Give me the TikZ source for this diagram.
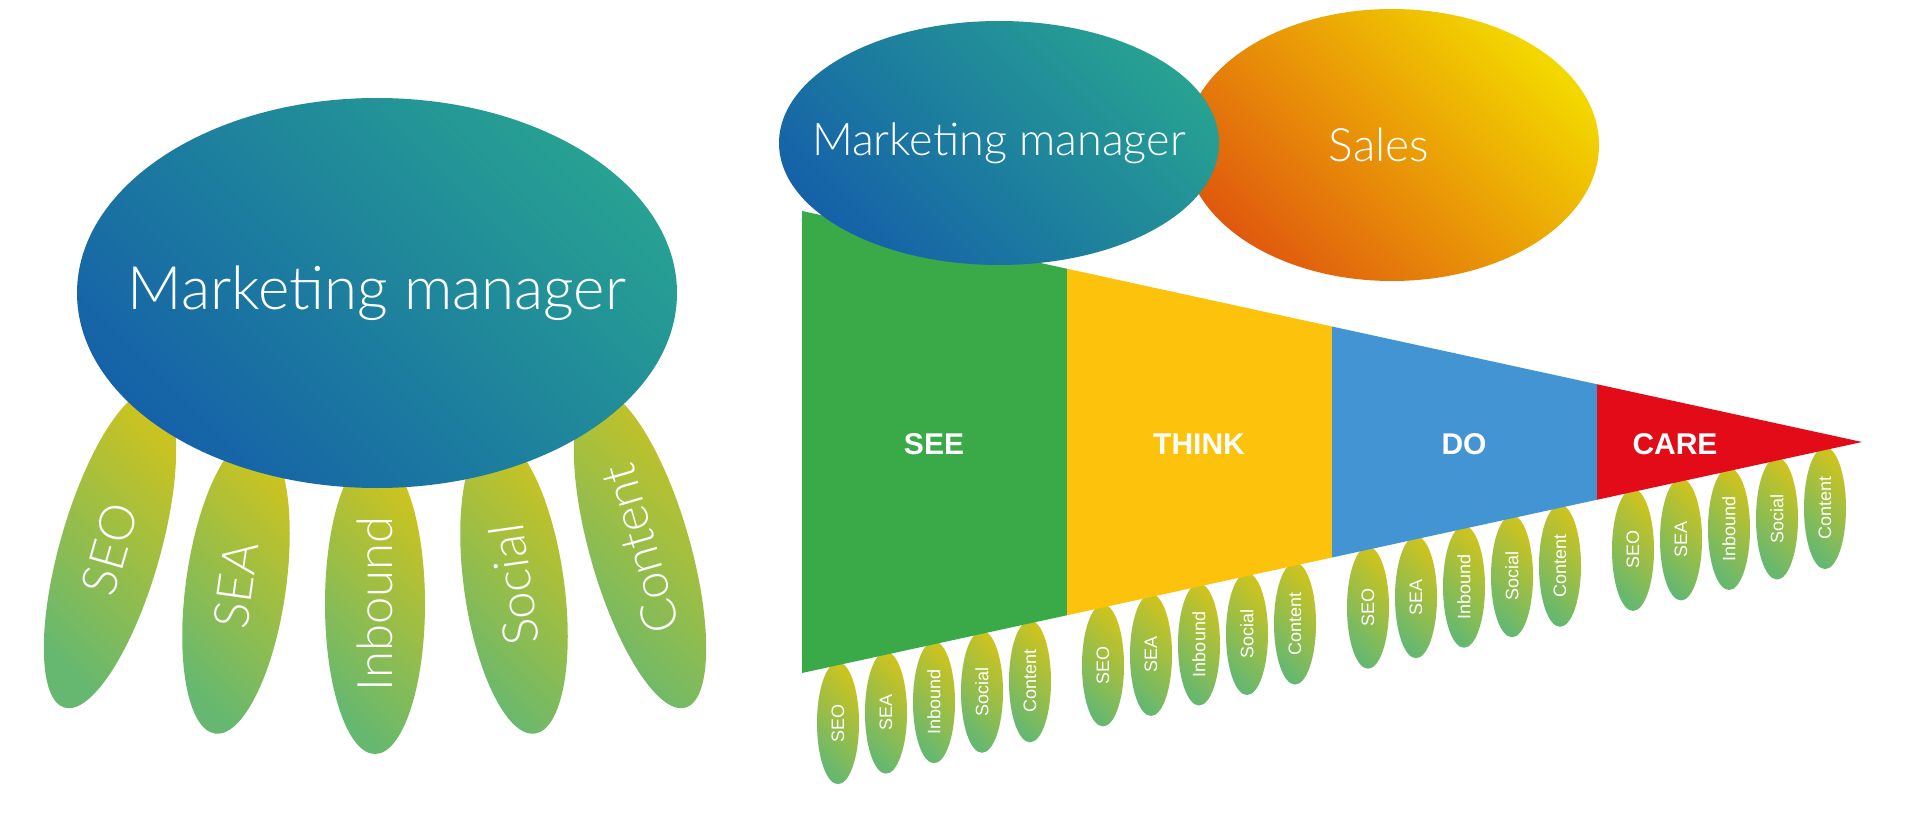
\documentclass[tikz,border=0pt]{standalone}
\usepackage{fontspec}
\setmainfont{Liberation Sans}
\newfontfamily\thinfont{Lato Light}
\usetikzlibrary{shapes.geometric}
\definecolor{mmteal}{HTML}{27A192}
\definecolor{mmblue}{HTML}{1562A8}
\definecolor{salesyellow}{HTML}{F3D800}
\definecolor{salesorange}{HTML}{E05A0E}
\definecolor{fingeryellow}{HTML}{CBC320}
\definecolor{fingergreen}{HTML}{66B870}
\definecolor{seegreen}{HTML}{3AAA49}
\definecolor{thinkyellow}{HTML}{FDC30C}
\definecolor{doblue}{HTML}{4394D2}
\definecolor{carered}{HTML}{E20B17}
\tikzset{manager/.style={ellipse, inner sep=0pt, top color=mmteal, bottom color=mmblue, shading angle=-45},
	sales/.style={ellipse, inner sep=0pt, top color=salesyellow, bottom color=salesorange, shading angle=-45},
	finger/.style={ellipse, inner sep=0pt, top color=fingeryellow, bottom color=fingergreen, shading angle=-45, text=white},
	bigfinger/.style={finger, minimum width=330pt, minimum height=100pt, font=\thinfont\fontsize{49}{49}\selectfont},
	smallfinger/.style={finger, minimum width=122pt, minimum height=42pt, rotate=90, font=\fontsize{18}{18}\selectfont},
	thintext/.style={text=white, font=\thinfont\fontsize{#1}{#1}\selectfont},
	stage/.style={text=white, font=\bfseries\fontsize{30}{30}\selectfont}}

\begin{document}
\begin{tikzpicture}[x=1pt, y=-1pt]
		\fill[white] (0,0) rectangle (1920,813);
		\useasboundingbox (0,0) rectangle (1920,813);
		% left: one manager, five channels
		\node[bigfinger, rotate=74] (seo) at (110,549) {SEO};
		\node[bigfinger, minimum width=300pt, rotate=82] (sea) at (236,585) {SEA};
		\node[bigfinger, minimum width=300pt, rotate=90] (inbound) at (375,604) {Inbound};
		\node[bigfinger, minimum width=300pt, rotate=98] (social) at (514,585) {Social};
		\node[bigfinger, rotate=106] (content) at (640,549) {Content};
		\node[manager, minimum width=600pt, minimum height=390pt,
			label={[thintext=60]center:Marketing manager}] (boss) at (377,293) {};
		
		% right: channels under every stage
		\foreach \s in {0,...,3}
			\foreach \t [count=\k from 0] in {SEO,SEA,Inbound,Social,Content} {
				\pgfmathsetmacro\fx{838+265*\s+48*\k}
				\pgfmathsetmacro\fy{500+0.21792*(1862-\fx)}
				\node[smallfinger] (f\s\k) at (\fx,\fy) {\t};
			}
		\coordinate (t0) at (802,211);
		\coordinate (t1) at (1067,268.75);
		\coordinate (t2) at (1332,326.5);
		\coordinate (t3) at (1597,384.25);
		\coordinate (b0) at (802,673);
		\coordinate (b1) at (1067,615.25);
		\coordinate (b2) at (1332,557.5);
		\coordinate (b3) at (1597,499.75);
		\coordinate (tip) at (1862,442);
		\fill[seegreen] (t0) -- (t1) -- (b1) -- (b0) -- cycle;
		\fill[thinkyellow] (t1) -- (t2) -- (b2) -- (b1) -- cycle;
		\fill[doblue] (t2) -- (t3) -- (b3) -- (b2) -- cycle;
		\fill[carered] (t3) -- (tip) -- (b3) -- cycle;
		\node[stage] (see) at (934,444) {SEE};
		\node[stage] (think) at (1199,444) {THINK};
		\node[stage] (do) at (1464,444) {DO};
		\node[stage] (care) at (1675,444) {CARE};
		
		\node[sales, minimum width=414pt, minimum height=272pt,
			label={[thintext=46, xshift=-13pt]center:Sales}] (sales) at (1392,145) {};
		\node[manager, minimum width=440pt, minimum height=244pt,
			label={[thintext=45]center:Marketing manager}] (lead) at (999,143) {};
		\end{tikzpicture}
\end{document}
